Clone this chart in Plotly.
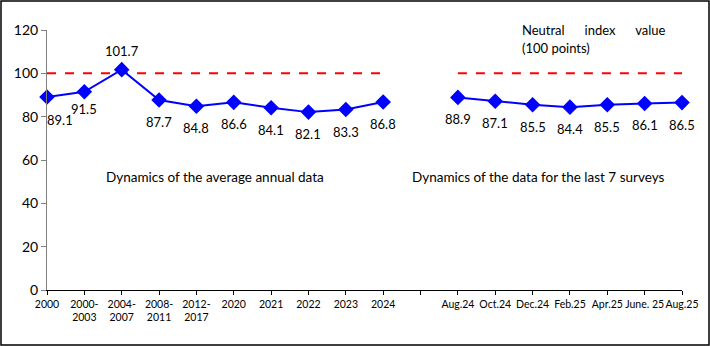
import plotly.graph_objects as go

categories = ["2000", "2000-<br>2003", "2004-<br>2007", "2008-<br>2011", "2012-<br>2017",
              "2020", "2021", "2022", "2023", "2024", " ",
              "Aug.24", "Oct.24", "Dec.24", "Feb.25", "Apr.25", "June. 25", "Aug.25"]
annual_values = [89.1, 91.5, 101.7, 87.7, 84.8, 86.6, 84.1, 82.1, 83.3, 86.8]
survey_values = [88.9, 87.1, 85.5, 84.4, 85.5, 86.1, 86.5]
neutral_value = 100

n_annual = len(annual_values)
x_annual = categories[:n_annual]
x_survey = categories[n_annual + 1:]

FONT = "Lato"
blue = "#0000FF"
red = "#FF0000"

fig = go.Figure()

# neutral dashed line (broken at the gap)
fig.add_trace(go.Scatter(
    x=categories,
    y=[neutral_value] * n_annual + [None] + [neutral_value] * len(survey_values),
    mode="lines", line=dict(color=red, width=2, dash="dash"),
    connectgaps=False, hoverinfo="skip", cliponaxis=False))

for xs, ys in [(x_annual, annual_values), (x_survey, survey_values)]:
    fig.add_trace(go.Scatter(
        x=xs, y=ys, mode="lines+markers",
        line=dict(color=blue, width=2),
        marker=dict(symbol="diamond", size=12, color=blue),
        cliponaxis=False))

annotations = []
for i, yv in enumerate(annual_values):
    xs, ys = 0, -22
    if i == 0:
        xs, ys = 13, -23
    elif i == 1:
        ys = -17
    elif i == 2:
        ys = 19
    annotations.append(dict(x=i, y=yv, text=f"{yv:.1f}", showarrow=False,
                            xshift=xs, yshift=ys,
                            font=dict(family=FONT, size=13, color="black")))
for j, yv in enumerate(survey_values):
    annotations.append(dict(x=n_annual + 1 + j, y=yv, text=f"{yv:.1f}", showarrow=False,
                            yshift=-22,
                            font=dict(family=FONT, size=13, color="black")))

annotations += [
    dict(x=4.5, y=52, text="Dynamics of the average annual data", showarrow=False,
         font=dict(family=FONT, size=13.5, color="black")),
    dict(x=13.15, y=52, text="Dynamics of the data for the last 7 surveys", showarrow=False,
         font=dict(family=FONT, size=13.5, color="black")),
    dict(x=12.66, y=120, xanchor="left", yanchor="middle",
         text="Neutral\u00a0\u00a0\u00a0\u00a0\u00a0 index\u00a0\u00a0\u00a0\u00a0\u00a0 value",
         showarrow=False, font=dict(family=FONT, size=13, color="black")),
    dict(x=12.66, y=111.5, xanchor="left", yanchor="middle",
         text="(100 points)",
         showarrow=False, font=dict(family=FONT, size=13, color="black")),
]

fig.update_layout(
    width=710, height=346,
    margin=dict(l=47, r=28, t=30, b=56, autoexpand=False),
    paper_bgcolor="white", plot_bgcolor="white",
    showlegend=False,
    annotations=annotations,
    shapes=[dict(type="rect", xref="paper", yref="paper",
                 x0=(1 - 47) / 635, x1=(709 - 47) / 635,
                 y0=(290 - 345) / 260, y1=(290 - 1) / 260,
                 line=dict(color="black", width=1.5), fillcolor="rgba(0,0,0,0)")],
)
fig.update_xaxes(type="category", categoryorder="array", categoryarray=categories,
                 range=[0, len(categories) - 1],
                 showline=True, linecolor="black", linewidth=1,
                 ticks="outside", ticklen=4, tickcolor="black",
                 showgrid=False, zeroline=False, tickangle=0,
                 tickfont=dict(family=FONT, size=10.5, color="black"))
fig.update_yaxes(range=[0, 120], tickvals=[0, 20, 40, 60, 80, 100, 120],
                 showline=True, linecolor="#808080", linewidth=1,
                 ticks="outside", ticklen=5, tickcolor="#808080",
                 showgrid=False, zeroline=False,
                 tickfont=dict(family=FONT, size=14, color="black"))

fig.write_html("out.html", config={"displayModeBar": False},
               post_script="document.body.style.margin='0';document.body.style.overflow='hidden';")
